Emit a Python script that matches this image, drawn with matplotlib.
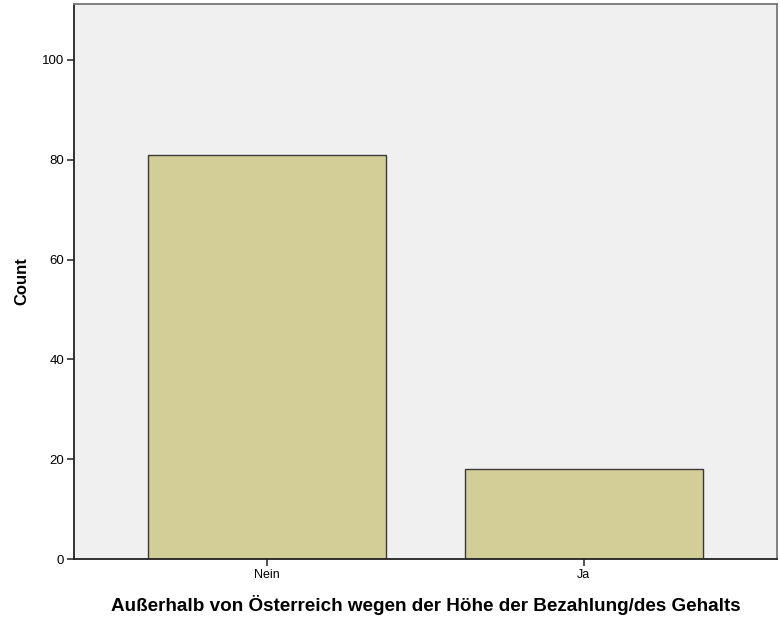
import matplotlib
matplotlib.use("Agg")
import matplotlib.pyplot as plt

categories = ["Nein", "Ja"]
counts = [81, 18]
y_ticks = [0, 20, 40, 60, 80, 100]

plt.rcParams['font.family'] = ['Liberation Sans', 'DejaVu Sans']

fig = plt.figure(figsize=(7.8, 6.21), dpi=100)
ax = fig.add_axes([74 / 780, 62 / 621, 703 / 780, 555 / 621])
ax.set_facecolor('#f0f0f0')

x = list(range(len(categories)))
ax.bar(x, counts, width=0.75, color='#d3ce98', edgecolor='#3a3a3a', linewidth=1.0, zorder=2)

ax.set_xlim(-0.61, 1.61)
ax.set_ylim(0, 111.2)
ax.set_xticks(x)
ax.set_xticklabels(categories, fontsize=9)
ax.set_yticks(y_ticks)
ax.set_yticklabels([str(t) for t in y_ticks], fontsize=9.5)
ax.tick_params(axis='both', direction='out', length=5, width=1.2, color='#333333', pad=2)

for side in ['left', 'bottom']:
    ax.spines[side].set_color('#222222')
    ax.spines[side].set_linewidth(1.3)
for side in ['top', 'right']:
    ax.spines[side].set_color('#777777')
    ax.spines[side].set_linewidth(1.3)

ax.set_ylabel('Count', fontsize=12, fontweight='bold', labelpad=9)
ax.set_xlabel('Außerhalb von Österreich wegen der Höhe der Bezahlung/des Gehalts',
              fontsize=13.6, fontweight='bold', labelpad=10)

fig.savefig('out.png', dpi=100)
